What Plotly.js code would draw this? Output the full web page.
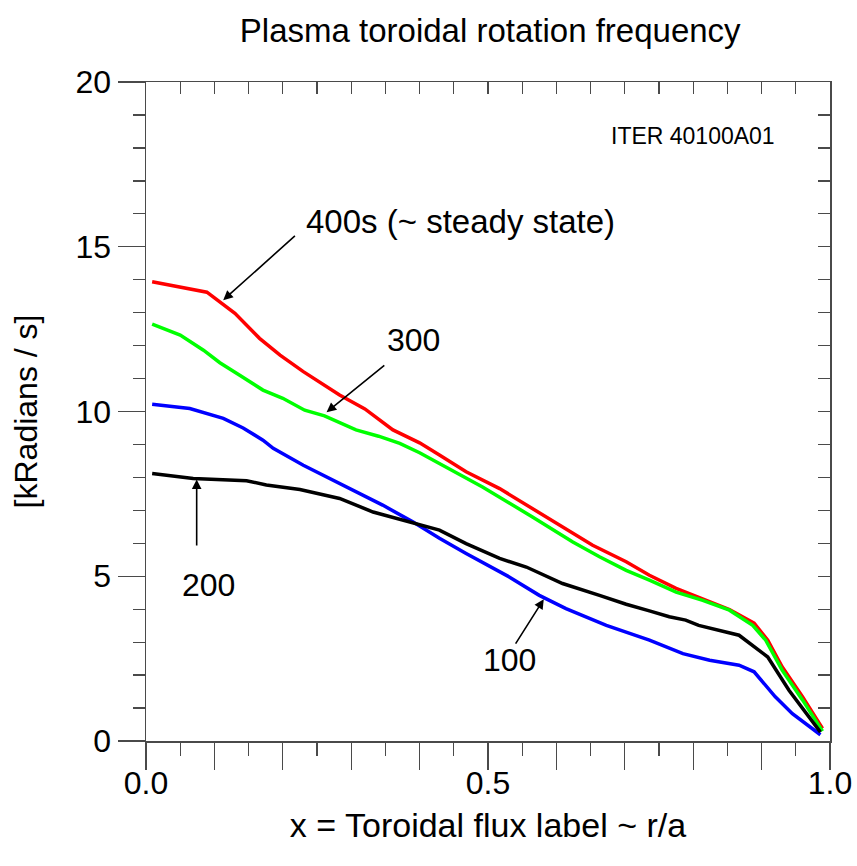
<!DOCTYPE html>
<html>
<head>
<meta charset="utf-8">
<script src="https://cdn.plot.ly/plotly-3.0.1.min.js"></script>
<style>html,body{margin:0;padding:0;background:#fff;}#chart{width:857px;height:866px;}</style>
</head>
<body>
<div id="chart"></div>
<script>
// ---- data ----
const x400 = [0.009, 0.054, 0.089, 0.130, 0.166, 0.196, 0.230, 0.283, 0.320, 0.361, 0.400, 0.429, 0.468, 0.517, 0.565, 0.614, 0.653, 0.702, 0.736, 0.775, 0.814, 0.853, 0.889, 0.909, 0.930, 0.960, 0.989];
const y400 = [13.94, 13.77, 13.62, 12.98, 12.22, 11.71, 11.21, 10.50, 10.08, 9.44, 9.05, 8.68, 8.17, 7.66, 7.06, 6.45, 5.94, 5.44, 5.03, 4.63, 4.32, 3.99, 3.58, 3.06, 2.25, 1.34, 0.38];

const x300 = [0.009, 0.050, 0.084, 0.108, 0.137, 0.171, 0.200, 0.232, 0.261, 0.283, 0.307, 0.340, 0.371, 0.400, 0.429, 0.492, 0.565, 0.624, 0.663, 0.702, 0.736, 0.775, 0.814, 0.853, 0.887, 0.906, 0.930, 0.960, 0.989];
const y300 = [12.65, 12.32, 11.86, 11.48, 11.10, 10.65, 10.40, 10.04, 9.87, 9.66, 9.44, 9.25, 9.03, 8.75, 8.42, 7.71, 6.80, 6.04, 5.59, 5.18, 4.88, 4.52, 4.27, 3.97, 3.51, 3.06, 2.15, 1.24, 0.30];

const x200 = [0.009, 0.069, 0.147, 0.176, 0.225, 0.283, 0.332, 0.390, 0.429, 0.468, 0.517, 0.556, 0.609, 0.663, 0.702, 0.736, 0.765, 0.789, 0.808, 0.867, 0.909, 0.940, 0.965, 0.986];
const y200 = [8.12, 7.97, 7.90, 7.77, 7.63, 7.36, 6.95, 6.62, 6.40, 5.99, 5.54, 5.28, 4.78, 4.42, 4.15, 3.95, 3.77, 3.67, 3.51, 3.21, 2.55, 1.54, 0.83, 0.27];

const x100 = [0.009, 0.064, 0.113, 0.142, 0.171, 0.186, 0.230, 0.283, 0.346, 0.390, 0.429, 0.468, 0.531, 0.575, 0.614, 0.673, 0.736, 0.785, 0.824, 0.867, 0.889, 0.920, 0.945, 0.986];
const y100 = [10.22, 10.09, 9.79, 9.50, 9.13, 8.88, 8.37, 7.82, 7.16, 6.65, 6.15, 5.69, 4.98, 4.42, 4.02, 3.51, 3.06, 2.65, 2.45, 2.30, 2.10, 1.34, 0.83, 0.19];

const xTickVals = [0, 0.1, 0.2, 0.3, 0.4, 0.5, 0.6, 0.7, 0.8, 0.9, 1.0];
const xTickText = ['0.0', '', '', '', '', '0.5', '', '', '', '', '1.0'];
const yTickVals = [0, 5, 10, 15, 20];
const yTickText = ['0', '5', '10', '15', '20'];

const titleText = 'Plasma toroidal rotation frequency';
const xTitle = 'x = Toroidal flux label ~ r/a';
const yTitle = '[kRadians / s]';
const runLabel = 'ITER 40100A01';

const FONT = 'Liberation Sans, Arial, Helvetica, sans-serif';
const AX = '#4a4a4a';

const traces = [
  {x: x400, y: y400, mode: 'lines', line: {color: '#ff0000', width: 3.5}, hoverinfo: 'skip'},
  {x: x300, y: y300, mode: 'lines', line: {color: '#00ff00', width: 3.5}, hoverinfo: 'skip'},
  {x: x100, y: y100, mode: 'lines', line: {color: '#0000ff', width: 3.5}, hoverinfo: 'skip'},
  {x: x200, y: y200, mode: 'lines', line: {color: '#000000', width: 3.5}, hoverinfo: 'skip'},
  {x: [null], y: [null], xaxis: 'x2', yaxis: 'y2', mode: 'lines', hoverinfo: 'skip'}
];

function arrow(hx, hy, tx, ty) {
  return {x: hx, y: hy, ax: tx, ay: ty, xref: 'x', yref: 'y', axref: 'x', ayref: 'y',
    text: '', showarrow: true, arrowhead: 2, arrowsize: 1.2, arrowwidth: 1.6, arrowcolor: '#000'};
}
function label(x, y, t, size, xanchor) {
  return {x: x, y: y, xref: 'x', yref: 'y', text: t, showarrow: false,
    xanchor: xanchor || 'center', yanchor: 'middle', font: {family: FONT, size: size, color: '#000'}};
}

const layout = {
  width: 857, height: 866,
  margin: {l: 146, r: 27, t: 82, b: 125},
  paper_bgcolor: '#fff', plot_bgcolor: '#fff',
  showlegend: false,
  font: {family: FONT, color: '#000'},
  title: {text: titleText, font: {family: FONT, size: 33, color: '#000'}, x: 0.572, xanchor: 'center', y: 0.965, yanchor: 'middle'},
  xaxis: {
    range: [0, 1], autorange: false, showgrid: false, zeroline: false,
    showline: true, linecolor: AX, linewidth: 1.5,
    tickmode: 'array', tickvals: xTickVals, ticktext: xTickText,
    ticks: 'outside', ticklen: 27, tickwidth: 1.3, tickcolor: AX, ticklabelstandoff: -14,
    tickfont: {family: FONT, size: 32, color: '#000'},
    minor: {dtick: 0.05, tick0: 0, ticks: 'outside', ticklen: 13, tickwidth: 1.3, tickcolor: AX, showgrid: false},
    title: {text: xTitle, font: {family: FONT, size: 34, color: '#000'}, standoff: 13}
  },
  xaxis2: {
    overlaying: 'x', side: 'top', range: [0, 1], autorange: false, showgrid: false, zeroline: false,
    showline: true, linecolor: AX, linewidth: 1.5,
    tickmode: 'array', tickvals: xTickVals, ticktext: xTickVals.map(() => ''),
    ticks: 'inside', ticklen: 26, tickwidth: 1.3, tickcolor: AX, showticklabels: false,
    minor: {dtick: 0.05, tick0: 0, ticks: 'inside', ticklen: 12, tickwidth: 1.3, tickcolor: AX, showgrid: false}
  },
  yaxis: {
    range: [0, 20], autorange: false, showgrid: false, zeroline: false,
    showline: true, linecolor: AX, linewidth: 1.5,
    tickmode: 'array', tickvals: yTickVals, ticktext: yTickText,
    ticks: 'outside', ticklen: 27, tickwidth: 1.3, tickcolor: AX,
    tickfont: {family: FONT, size: 32, color: '#000'},
    minor: {dtick: 1, tick0: 0, ticks: 'outside', ticklen: 12, tickwidth: 1.3, tickcolor: AX, showgrid: false},
    title: {text: yTitle, font: {family: FONT, size: 32, color: '#000'}, standoff: 28}
  },
  yaxis2: {
    overlaying: 'y', side: 'right', range: [0, 20], autorange: false, showgrid: false, zeroline: false,
    showline: true, linecolor: AX, linewidth: 1.5,
    tickmode: 'array', tickvals: yTickVals, ticktext: yTickVals.map(() => ''),
    ticks: 'inside', ticklen: 26, tickwidth: 1.3, tickcolor: AX, showticklabels: false,
    minor: {dtick: 1, tick0: 0, ticks: 'inside', ticklen: 12, tickwidth: 1.3, tickcolor: AX, showgrid: false}
  },
  annotations: [
    arrow(0.1129, 13.38, 0.2199, 15.37),
    arrow(0.264, 9.98, 0.3506, 11.44),
    arrow(0.0741, 7.94, 0.0741, 5.89),
    arrow(0.5815, 4.30, 0.539, 2.91),
    label(0.4602, 15.76, '400s (~ steady state)', 33),
    label(0.3915, 12.17, '300', 32),
    label(0.0913, 4.73, '200', 32),
    label(0.5318, 2.45, '100', 32),
    label(0.9218, 18.36, runLabel, 23, 'right')
  ]
};

Plotly.newPlot('chart', traces, layout, {displayModeBar: false, staticPlot: true});
</script>
</body>
</html>
